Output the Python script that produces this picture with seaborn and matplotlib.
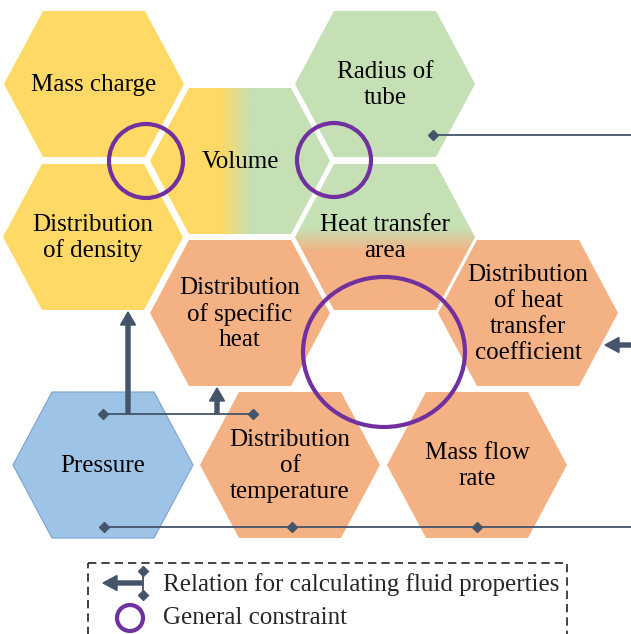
import numpy as np
import matplotlib
matplotlib.use("Agg")
import matplotlib.pyplot as plt
import seaborn as sns
from matplotlib.patches import Polygon, Ellipse, Rectangle, FancyArrow
from matplotlib.colors import to_rgb

sns.set_theme(style="white")
plt.rcParams['font.family'] = ['Liberation Serif', 'DejaVu Serif']

# ---- data -------------------------------------------------------------
hex_labels = ["Mass charge", "Distribution\nof density", "Volume",
              "Radius of\ntube", "Heat transfer\narea",
              "Distribution\nof specific\nheat",
              "Distribution\nof heat\ntransfer\ncoefficient",
              "Pressure", "Distribution\nof\ntemperature", "Mass flow\nrate"]
hex_x = [94, 93, 240, 385, 385, 240, 528, 103, 290, 477]
hex_y = [84, 237, 161, 84, 237, 313, 313, 465, 465, 465]
hex_fill = ["yellow", "yellow", "yellow-green", "green", "green-orange",
            "orange", "orange", "blue", "orange", "orange"]

palette = {"yellow": "#FFD966", "green": "#C5E0B4",
           "orange": "#F4B183", "blue": "#9DC3E6"}
line_col = "#44546A"
purple = "#7030A0"

constraint_x = [146, 334, 384]
constraint_y = [161, 160, 352]
constraint_w = [74, 74, 162]
constraint_h = [74, 74, 150]

legend_labels = ["Relation for calculating fluid properties", "General constraint"]

# ---- figure -----------------------------------------------------------
fig = plt.figure(figsize=(6.31, 6.34), dpi=100)
ax = fig.add_axes([0, 0, 1, 1])
ax.set_xlim(0, 631)
ax.set_ylim(634, 0)
ax.axis('off')

R, A, HH = 90, 51, 73


def hexpts(cx, cy):
    return [(cx - R, cy), (cx - A, cy - HH), (cx + A, cy - HH),
            (cx + R, cy), (cx + A, cy + HH), (cx - A, cy + HH)]


def gradient_img(c1, c2, start, stop, n=200, horizontal=True):
    c1, c2 = np.array(to_rgb(c1)), np.array(to_rgb(c2))
    t = np.linspace(0, 1, n)
    w = np.clip((t - start) / (stop - start), 0, 1)[:, None]
    cols = c1 * (1 - w) + c2 * w
    if horizontal:
        return cols[None, :, :]
    return cols[:, None, :]


for lab, cx, cy, fill in zip(hex_labels, hex_x, hex_y, hex_fill):
    pts = hexpts(cx, cy)
    if fill == "yellow-green":
        poly = Polygon(pts, closed=True, facecolor='none', edgecolor='none')
        ax.add_patch(poly)
        s = (220 - (cx - R)) / (2 * R)
        e = (252 - (cx - R)) / (2 * R)
        img = gradient_img(palette["yellow"], palette["green"], s, e, horizontal=True)
        im = ax.imshow(img, extent=[cx - R, cx + R, cy + HH, cy - HH],
                       aspect='auto', interpolation='bilinear', zorder=1)
        im.set_clip_path(poly)
    elif fill == "green-orange":
        poly = Polygon(pts, closed=True, facecolor='none', edgecolor='none')
        ax.add_patch(poly)
        s = (228 - (cy - HH)) / (2 * HH)
        e = (252 - (cy - HH)) / (2 * HH)
        img = gradient_img(palette["green"], palette["orange"], s, e, horizontal=False)
        im = ax.imshow(img, extent=[cx - R, cx + R, cy + HH, cy - HH],
                       aspect='auto', interpolation='bilinear', zorder=1)
        im.set_clip_path(poly)
    else:
        ec = "#7BA3CC" if fill == "blue" else 'none'
        poly = Polygon(pts, closed=True, facecolor=palette[fill],
                       edgecolor=ec, lw=0.8, zorder=1)
        ax.add_patch(poly)
    ax.text(cx, cy + 1, lab, ha='center', va='center', fontsize=18,
            color='black', linespacing=1.22, zorder=5)

ax.set_xlim(0, 631)
ax.set_ylim(634, 0)

# ---- relation lines ---------------------------------------------------
thin = 1.3
ax.plot([433, 631], [135, 135], color=line_col, lw=thin, zorder=3)
ax.plot([433], [135], marker='D', ms=5, color=line_col, zorder=4)
ax.plot([103, 253], [414, 414], color=line_col, lw=thin, zorder=3)
ax.plot([103, 253], [414, 414], ls='none', marker='D', ms=5, color=line_col, zorder=4)
ax.add_patch(FancyArrow(128, 414, 0, -102, width=4, head_width=15, head_length=13,
                        length_includes_head=True, color=line_col, zorder=4))
ax.add_patch(FancyArrow(217, 414, 0, -26, width=4, head_width=15, head_length=13,
                        length_includes_head=True, color=line_col, zorder=4))
ax.plot([104, 631], [527, 527], color=line_col, lw=thin, zorder=3)
ax.plot([104, 292, 477], [527, 527, 527], ls='none', marker='D', ms=5,
        color=line_col, zorder=4)
ax.add_patch(FancyArrow(640, 345, -35, 0, width=4, head_width=15, head_length=14,
                        length_includes_head=True, color=line_col, zorder=4))

# ---- constraints ------------------------------------------------------
for x, y, w, h in zip(constraint_x, constraint_y, constraint_w, constraint_h):
    ax.add_patch(Ellipse((x, y), w, h, facecolor='none', edgecolor=purple,
                         lw=3.0, zorder=6))

# ---- legend -----------------------------------------------------------
ax.add_patch(Rectangle((88, 563), 479, 100, facecolor='none', edgecolor='#222222',
                       lw=1.2, linestyle=(0, (5, 3)), zorder=3))
ax.add_patch(FancyArrow(143, 583, -40, 0, width=4, head_width=15, head_length=14,
                        length_includes_head=True, color=line_col, zorder=4))
ax.plot([143, 143], [571, 595], color=line_col, lw=thin, zorder=4)
ax.plot([143, 143], [571, 595], ls='none', marker='D', ms=5, color=line_col, zorder=4)
ax.add_patch(Ellipse((130, 618), 26, 26, facecolor='none', edgecolor=purple,
                     lw=3.0, zorder=6))
ax.text(163, 585, legend_labels[0], ha='left', va='center', fontsize=18)
ax.text(163, 618, legend_labels[1], ha='left', va='center', fontsize=18)

fig.savefig("out.png", dpi=100)
